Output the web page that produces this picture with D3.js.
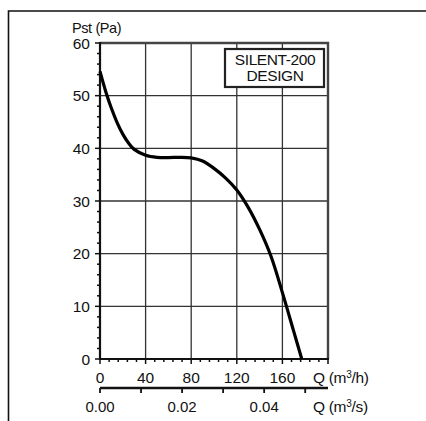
<!DOCTYPE html>
<html>
<head>
<meta charset="utf-8">
<script src="https://cdn.jsdelivr.net/npm/d3@7"></script>
<style>
  body { margin: 0; background: #fff; }
  svg { display: block; font-family: "Liberation Sans", Arial, sans-serif; }
</style>
</head>
<body>
<div id="chart"></div>
<script>
// fan curve, Q in m3/h, Pst in Pa
const flowQ = [0, 5, 10, 15, 20, 25, 30, 40, 50, 60, 70, 80, 90, 100, 110, 120, 130, 140, 150, 160, 170, 177];
const pressure = [54.6, 50.8, 47.6, 44.9, 42.7, 41.0, 39.8, 38.7, 38.3, 38.25, 38.3, 38.2, 37.6, 36.2, 34.4, 32.1, 28.8, 24.6, 19.5, 12.6, 5.2, 0];
const yTicks = [0, 10, 20, 30, 40, 50, 60];
const xTicks = [0, 40, 80, 120, 160];
const sTicks = [0, 0.01, 0.02, 0.03, 0.04, 0.05];
const sLabels = ['0.00', '', '0.02', '', '0.04', ''];
const titleLines = ['SILENT-200', 'DESIGN'];

const width = 426;
const height = 421;

const marginLeft = 100;
const plotRight = 328;
const plotTop = 43;
const plotBottom = 359;
const fontSize = 15.5;

const x = d3.scaleLinear().domain([0, 200]).range([marginLeft, plotRight]);
const xs = d3.scaleLinear().domain([0, 200 / 3600]).range([marginLeft, plotRight]);
const y = d3.scaleLinear().domain([0, 60]).range([plotBottom, plotTop]);

const ink = '#111';
const gridColor = '#333';

const svg = d3.select('#chart').append('svg')
  .attr('width', width)
  .attr('height', height);

// outer frame (runs off the picture right and bottom)
svg.append('path')
  .attr('d', `M8.5,${height + 2} V11 H${width + 2}`)
  .attr('fill', 'none')
  .attr('stroke', ink)
  .attr('stroke-width', 1.6);

// grid
const g = svg.append('g');
g.selectAll('.hgrid').data(yTicks.filter(d => d > 0 && d < 60)).enter()
  .append('line')
  .attr('x1', marginLeft).attr('x2', plotRight)
  .attr('y1', d => y(d)).attr('y2', d => y(d))
  .attr('stroke', gridColor).attr('stroke-width', 1.3);
g.selectAll('.vgrid').data(xTicks.filter(d => d > 0)).enter()
  .append('line')
  .attr('x1', d => x(d)).attr('x2', d => x(d))
  .attr('y1', plotTop).attr('y2', plotBottom)
  .attr('stroke', gridColor).attr('stroke-width', 1.3);

// plot border: top and right
g.append('path')
  .attr('d', `M${marginLeft},${plotTop} H${plotRight} V${plotBottom}`)
  .attr('fill', 'none')
  .attr('stroke', '#444')
  .attr('stroke-width', 2.4);

// y axis
const yMinor = d3.range(0, 61, 2);
g.selectAll('.ytick').data(yMinor).enter()
  .append('line')
  .attr('x1', d => d % 10 === 0 ? marginLeft - 5 : marginLeft - 3)
  .attr('x2', marginLeft)
  .attr('y1', d => y(d)).attr('y2', d => y(d))
  .attr('stroke', ink).attr('stroke-width', 1.5);
g.append('line')
  .attr('x1', marginLeft).attr('x2', marginLeft)
  .attr('y1', plotTop - 1).attr('y2', plotBottom + 1)
  .attr('stroke', ink).attr('stroke-width', 2.2);
g.selectAll('.ylab').data(yTicks).enter()
  .append('text')
  .attr('x', marginLeft - 10)
  .attr('y', d => y(d) + 5.5)
  .attr('text-anchor', 'end')
  .attr('font-size', fontSize)
  .attr('fill', ink)
  .text(d => d);
g.append('text')
  .attr('x', 72).attr('y', 33)
  .attr('font-size', 14.5)
  .attr('fill', ink)
  .attr('letter-spacing', -0.4)
  .text('Pst (Pa)');

// x axis (m3/h)
const xMinor = d3.range(0, 201, 8);
g.selectAll('.xtick').data(xMinor).enter()
  .append('line')
  .attr('x1', d => x(d)).attr('x2', d => x(d))
  .attr('y1', plotBottom)
  .attr('y2', d => d % 40 === 0 ? plotBottom + 5 : plotBottom + 3)
  .attr('stroke', ink).attr('stroke-width', 1.5);
g.append('line')
  .attr('x1', marginLeft - 1).attr('x2', plotRight + 1)
  .attr('y1', plotBottom).attr('y2', plotBottom)
  .attr('stroke', ink).attr('stroke-width', 2.2);
g.selectAll('.xlab').data(xTicks).enter()
  .append('text')
  .attr('x', d => x(d))
  .attr('y', plotBottom + 24)
  .attr('text-anchor', 'middle')
  .attr('font-size', fontSize)
  .attr('fill', ink)
  .text(d => d);
g.append('text')
  .attr('x', 313).attr('y', plotBottom + 24)
  .attr('font-size', fontSize)
  .attr('fill', ink)
  .attr('letter-spacing', -0.3)
  .html('Q (m<tspan font-size="10" dy="-5">3</tspan><tspan dy="5">/h)</tspan>');

// second axis (m3/s)
const axisS = plotBottom + 29;
g.append('line')
  .attr('x1', marginLeft).attr('x2', plotRight)
  .attr('y1', axisS).attr('y2', axisS)
  .attr('stroke', ink).attr('stroke-width', 2.4);
g.selectAll('.stick').data(sTicks).enter()
  .append('line')
  .attr('x1', d => xs(d)).attr('x2', d => xs(d))
  .attr('y1', axisS).attr('y2', axisS + 5)
  .attr('stroke', ink).attr('stroke-width', 1.8);
g.selectAll('.slab').data(sTicks).enter()
  .append('text')
  .attr('x', d => xs(d))
  .attr('y', axisS + 24)
  .attr('text-anchor', 'middle')
  .attr('font-size', fontSize - 0.5)
  .attr('fill', ink)
  .text((d, i) => sLabels[i]);
g.append('text')
  .attr('x', 313).attr('y', axisS + 24)
  .attr('font-size', fontSize)
  .attr('fill', ink)
  .attr('letter-spacing', -0.3)
  .html('Q (m<tspan font-size="10" dy="-5">3</tspan><tspan dy="5">/s)</tspan>');

// curve
const line = d3.line()
  .x((d, i) => x(flowQ[i]))
  .y(d => y(d))
  .curve(d3.curveCatmullRom.alpha(0.5));
g.append('path')
  .datum(pressure)
  .attr('d', line)
  .attr('fill', 'none')
  .attr('stroke', '#000')
  .attr('stroke-width', 3.2)
  .attr('stroke-linecap', 'butt');

// title box
const box = g.append('g');
box.append('rect')
  .attr('x', 225).attr('y', 49)
  .attr('width', 99).attr('height', 38)
  .attr('fill', '#fff')
  .attr('stroke', '#222')
  .attr('stroke-width', 2.2);
box.selectAll('text').data(titleLines).enter()
  .append('text')
  .attr('x', 275)
  .attr('y', (d, i) => 65 + i * 16)
  .attr('text-anchor', 'middle')
  .attr('font-size', 15.5)
  .attr('fill', ink)
  .attr('letter-spacing', -0.4)
  .text(d => d);
</script>
</body>
</html>
